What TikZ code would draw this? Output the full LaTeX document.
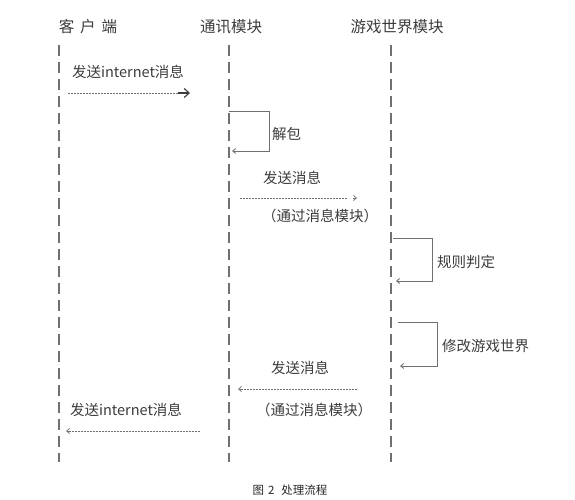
\documentclass[tikz,border=0pt]{standalone}
\usepackage{fontspec}
\setmainfont{Noto Sans CJK SC}
\usetikzlibrary{arrows.meta,calc}
\definecolor{ink}{HTML}{3C3C3C}
\definecolor{lineink}{HTML}{707070}
\tikzset{
  hdr/.style={font=\fontsize{15.5}{16}\selectfont, text=ink, inner sep=0pt},
  lbl/.style={font=\fontsize{14.5}{15}\selectfont, text=ink, inner sep=0pt},
  captxt/.style={font=\fontsize{11.5}{12}\selectfont, text=black!85, inner sep=0pt},
  life/.style={draw=lineink, line width=1.1pt, dash pattern=on 11pt off 6pt},
  msg/.style={draw=lineink, line width=0.6pt, dash pattern=on 2pt off 1pt},
  loopline/.style={draw=lineink, line width=0.9pt},
  chev/.style={-{Straight Barb[length=3pt,width=5pt]}},
}
\begin{document}
\begin{tikzpicture}[x=1pt,y=-1pt]
\useasboundingbox (0,0) rectangle (575,500);
% headers
\node[hdr] (hc) at (88,27) {客\hspace{6pt}户\hspace{6pt}端};
\node[hdr] (hm) at (231,27) {通讯模块};
\node[hdr] (hg) at (397,27) {游戏世界模块};
% lifelines
\coordinate (c1) at (59,45); \coordinate (c2) at (59,462);
\coordinate (m1) at (229,45); \coordinate (m2) at (229,462);
\coordinate (g1) at (391,45); \coordinate (g2) at (391,462);
\draw[life] (c1) -- (c2);
\draw[life] (m1) -- (m2);
\draw[life] (g1) -- (g2);
% message 1
\node[lbl] (l1) at (128,72) {发送internet消息};
\coordinate (a1s) at (68,93); \coordinate (a1e) at (190,93);
\draw[msg] (a1s) -- ($(a1e)+(-12,0)$);
\draw[ink, line width=1.1pt, -{Straight Barb[length=5pt,width=9pt]}] ($(a1e)+(-12,0)$) -- (a1e);
% self loop 1
\coordinate (s1a) at (229,111); \coordinate (s1b) at (269,111);
\coordinate (s1c) at (269,151); \coordinate (s1d) at (232,151);
\draw[loopline, chev] (s1a) -- (s1b) -- (s1c) -- (s1d);
\node[lbl, anchor=west] (l2) at (272,134) {解包};
% message 2
\node[lbl] (l3) at (292,178) {发送消息};
\coordinate (a2s) at (240,198); \coordinate (a2e) at (357,198);
\draw[msg] (a2s) -- ($(a2e)+(-10,0)$);
\draw[lineink, line width=0.7pt, chev] ($(a2e)+(-4,0)$) -- (a2e);
\node[lbl] (l4) at (320,216) {（通过消息模块）};
% self loop 2
\coordinate (s2a) at (393,238); \coordinate (s2b) at (432,238);
\coordinate (s2c) at (432,281); \coordinate (s2d) at (396,281);
\draw[loopline, chev] (s2a) -- (s2b) -- (s2c) -- (s2d);
\node[lbl, anchor=west] (l5) at (437,262) {规则判定};
% self loop 3
\coordinate (s3a) at (398,322); \coordinate (s3b) at (437,322);
\coordinate (s3c) at (437,366); \coordinate (s3d) at (400,366);
\draw[loopline, chev] (s3a) -- (s3b) -- (s3c) -- (s3d);
\node[lbl, anchor=west] (l6) at (442,346) {修改游戏世界};
% message 3
\node[lbl] (l7) at (300,368) {发送消息};
\coordinate (a3s) at (357,389); \coordinate (a3e) at (238,389);
\draw[msg] (a3s) -- ($(a3e)+(3,0)$);
\draw[lineink, line width=0.7pt, chev] ($(a3e)+(5,0)$) -- (a3e);
\node[lbl] (l8) at (314,410) {（通过消息模块）};
% message 4
\node[lbl] (l9) at (126,410) {发送internet消息};
\coordinate (a4s) at (200,431); \coordinate (a4e) at (66,431);
\draw[msg] (a4s) -- ($(a4e)+(3,0)$);
\draw[lineink, line width=0.7pt, chev] ($(a4e)+(5,0)$) -- (a4e);
% caption
\node[captxt] (capt) at (290,490) {图\hspace{4pt}2\hspace{7pt}处理流程};
\end{tikzpicture}
\end{document}
